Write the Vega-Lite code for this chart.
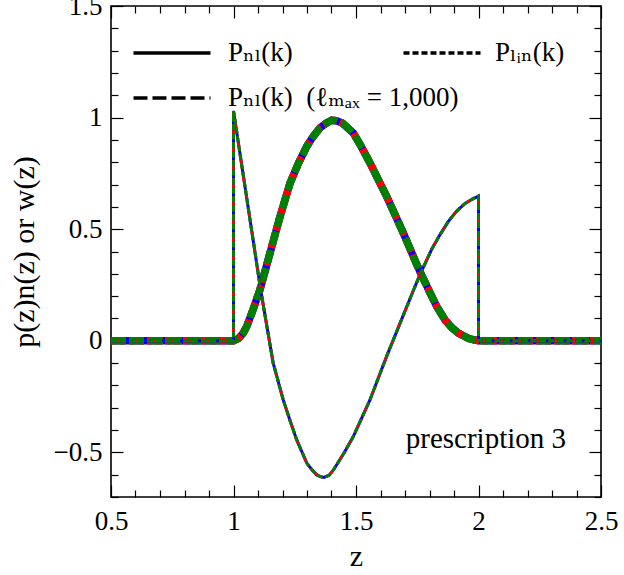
{
  "$schema": "https://vega.github.io/schema/vega-lite/v6.json",
  "width": 490,
  "height": 491,
  "autosize": {"type": "none"},
  "padding": {"left": 111, "top": 6, "right": 23, "bottom": 78},
  "background": "white",
  "config": {
    "view": {"stroke": "black", "strokeWidth": 1.6},
    "font": "Liberation Serif",
    "axis": {"domain": false, "grid": false, "tickColor": "black", "tickWidth": 1.2, "labelOverlap": false, "labelFlush": false, "labelFont": "Liberation Serif", "labelFontSize": 27, "labelColor": "black", "titleFont": "Liberation Serif", "titleFontSize": 30, "titleFontWeight": "normal", "titleColor": "black"}
  },
  "datasets": {
    "curves": [
      {"z": 0.5, "v": 0, "c": "n"}, {"z": 1.0, "v": 0, "c": "n"}, {"z": 1.02, "v": 0.01, "c": "n"}, {"z": 1.04, "v": 0.035, "c": "n"},
      {"z": 1.054, "v": 0.064, "c": "n"}, {"z": 1.08, "v": 0.14, "c": "n"}, {"z": 1.108, "v": 0.229, "c": "n"}, {"z": 1.149, "v": 0.393, "c": "n"},
      {"z": 1.19, "v": 0.557, "c": "n"}, {"z": 1.231, "v": 0.707, "c": "n"}, {"z": 1.265, "v": 0.795, "c": "n"}, {"z": 1.299, "v": 0.871, "c": "n"},
      {"z": 1.325, "v": 0.915, "c": "n"}, {"z": 1.353, "v": 0.954, "c": "n"}, {"z": 1.38, "v": 0.976, "c": "n"}, {"z": 1.4, "v": 0.988, "c": "n"},
      {"z": 1.42, "v": 0.986, "c": "n"}, {"z": 1.445, "v": 0.975, "c": "n"}, {"z": 1.489, "v": 0.931, "c": "n"}, {"z": 1.52, "v": 0.873, "c": "n"},
      {"z": 1.557, "v": 0.797, "c": "n"}, {"z": 1.59, "v": 0.724, "c": "n"}, {"z": 1.625, "v": 0.647, "c": "n"}, {"z": 1.66, "v": 0.563, "c": "n"},
      {"z": 1.693, "v": 0.483, "c": "n"}, {"z": 1.72, "v": 0.414, "c": "n"}, {"z": 1.741, "v": 0.36, "c": "n"}, {"z": 1.761, "v": 0.31, "c": "n"},
      {"z": 1.8, "v": 0.22, "c": "n"}, {"z": 1.83, "v": 0.153, "c": "n"}, {"z": 1.863, "v": 0.094, "c": "n"}, {"z": 1.89, "v": 0.06, "c": "n"},
      {"z": 1.918, "v": 0.034, "c": "n"}, {"z": 1.96, "v": 0.01, "c": "n"}, {"z": 2.0, "v": 0, "c": "n"}, {"z": 2.5, "v": 0, "c": "n"},
      {"z": 0.5, "v": 0, "c": "w"}, {"z": 1.0, "v": 0, "c": "w"}, {"z": 1.0, "v": 1.03, "c": "w"}, {"z": 1.054, "v": 0.64, "c": "w"},
      {"z": 1.112, "v": 0.221, "c": "w"}, {"z": 1.162, "v": -0.1, "c": "w"}, {"z": 1.203, "v": -0.265, "c": "w"}, {"z": 1.23, "v": -0.355, "c": "w"},
      {"z": 1.258, "v": -0.444, "c": "w"}, {"z": 1.299, "v": -0.548, "c": "w"}, {"z": 1.32, "v": -0.578, "c": "w"}, {"z": 1.34, "v": -0.601, "c": "w"},
      {"z": 1.355, "v": -0.609, "c": "w"}, {"z": 1.369, "v": -0.612, "c": "w"}, {"z": 1.39, "v": -0.603, "c": "w"}, {"z": 1.407, "v": -0.58, "c": "w"},
      {"z": 1.45, "v": -0.505, "c": "w"}, {"z": 1.489, "v": -0.429, "c": "w"}, {"z": 1.557, "v": -0.265, "c": "w"}, {"z": 1.59, "v": -0.17, "c": "w"},
      {"z": 1.625, "v": -0.07, "c": "w"}, {"z": 1.68, "v": 0.079, "c": "w"}, {"z": 1.734, "v": 0.225, "c": "w"}, {"z": 1.761, "v": 0.296, "c": "w"},
      {"z": 1.809, "v": 0.41, "c": "w"}, {"z": 1.84, "v": 0.47, "c": "w"}, {"z": 1.877, "v": 0.535, "c": "w"}, {"z": 1.91, "v": 0.58, "c": "w"},
      {"z": 1.945, "v": 0.615, "c": "w"}, {"z": 1.975, "v": 0.635, "c": "w"}, {"z": 2.0, "v": 0.648, "c": "w"}, {"z": 2.0, "v": 0, "c": "w"},
      {"z": 2.5, "v": 0, "c": "w"}
    ]
  },
  "data": {"name": "curves"},
  "resolve": {"axis": {"x": "independent", "y": "independent"}},
  "layer": [
    {
      "transform": [{"filter": "datum.c === 'n'"}],
      "mark": {"type": "line", "color": "#0000ff", "strokeWidth": 7.5},
      "encoding": {
        "x": {"field": "z", "type": "quantitative", "scale": {"domain": [0.5, 2.5], "nice": false, "zero": false},
          "axis": {"orient": "bottom", "title": "z", "titlePadding": 2,
            "values": [0.5,0.6,0.7,0.8,0.9,1,1.1,1.2,1.3,1.4,1.5,1.6,1.7,1.8,1.9,2,2.1,2.2,2.3,2.4,2.5],
            "tickSize": {"condition": {"test": "abs(datum.value*2-round(datum.value*2))<1e-6", "value": -12}, "value": -7},
            "labelPadding": 23,
            "labelExpr": "abs(datum.value*2-round(datum.value*2))<1e-6 ? replace(''+datum.value,'-','\u2212') : ''"}},
        "y": {"field": "v", "type": "quantitative", "scale": {"domain": [-0.7, 1.5], "nice": false, "zero": false},
          "axis": {"orient": "left", "title": "p(z)n(z) or w(z)", "titlePadding": 14,
            "values": [-0.7,-0.6,-0.5,-0.4,-0.3,-0.2,-0.1,0,0.1,0.2,0.3,0.4,0.5,0.6,0.7,0.8,0.9,1,1.1,1.2,1.3,1.4,1.5],
            "tickSize": {"condition": {"test": "abs(datum.value*2-round(datum.value*2))<1e-6", "value": -12}, "value": -7},
            "labelPadding": 21,
            "labelExpr": "abs(datum.value*2-round(datum.value*2))<1e-6 ? replace(''+datum.value,'-','\u2212') : ''"}},
        "strokeDash": {"datum": "P\u2099\u2097(k)", "type": "nominal",
          "scale": {"domain": ["P\u2099\u2097(k)", "P\u2099\u2097(k)\u2002(\u2113\u2098\u2090\u2093 = 1,000)"], "range": [[1, 0], [14, 5]]},
          "legend": {"orient": "none", "legendX": 46, "legendY": 32, "direction": "vertical", "rowPadding": 17,
            "symbolType": "M-3,0H3", "symbolSize": 659, "symbolStrokeWidth": 3.5, "symbolStrokeColor": "black", "symbolFillColor": "transparent",
            "labelFont": "Liberation Serif, DejaVu Serif", "labelFontSize": 27, "labelColor": "black", "labelOffset": 41, "labelLimit": 0,
            "title": null, "padding": 0,
            "encode": {"symbols": {"update": {"stroke": {"value": "black"}, "strokeWidth": {"value": 3.5}, "fill": {"value": "transparent"}, "opacity": {"value": 1}}}}}}
      }
    },
    {
      "transform": [{"filter": "datum.c === 'n'"}],
      "mark": {"type": "line", "color": "#ff0000", "strokeWidth": 7.5, "strokeDash": [6, 3]},
      "encoding": {
        "x": {"field": "z", "type": "quantitative",
          "axis": {"orient": "top", "title": null, "labels": false,
            "values": [0.5,0.6,0.7,0.8,0.9,1,1.1,1.2,1.3,1.4,1.5,1.6,1.7,1.8,1.9,2,2.1,2.2,2.3,2.4,2.5],
            "tickSize": {"condition": {"test": "abs(datum.value*2-round(datum.value*2))<1e-6", "value": -12}, "value": -7}}},
        "y": {"field": "v", "type": "quantitative",
          "axis": {"orient": "right", "title": null, "labels": false,
            "values": [-0.7,-0.6,-0.5,-0.4,-0.3,-0.2,-0.1,0,0.1,0.2,0.3,0.4,0.5,0.6,0.7,0.8,0.9,1,1.1,1.2,1.3,1.4,1.5],
            "tickSize": {"condition": {"test": "abs(datum.value*2-round(datum.value*2))<1e-6", "value": -12}, "value": -7}}},
        "opacity": {"datum": "P\u2097\u1d62\u2099(k)", "type": "nominal", "scale": {"type": "ordinal", "domain": ["P\u2097\u1d62\u2099(k)"], "range": [1]},
          "legend": {"orient": "none", "legendX": 316, "legendY": 32, "direction": "vertical",
            "symbolType": "M-3,0H3", "symbolSize": 659, "symbolStrokeWidth": 3.5, "symbolDash": [6, 3], "symbolStrokeColor": "black", "symbolFillColor": "transparent",
            "labelFont": "Liberation Serif, DejaVu Serif", "labelFontSize": 27, "labelColor": "black", "labelOffset": 38, "labelLimit": 0,
            "title": null, "padding": 0,
            "encode": {"symbols": {"update": {"stroke": {"value": "black"}, "strokeWidth": {"value": 3.5}, "strokeDash": {"value": [6, 3]}, "fill": {"value": "transparent"}, "opacity": {"value": 1}}}}}}
      }
    },
    {
      "transform": [{"filter": "datum.c === 'n'"}],
      "mark": {"type": "line", "color": "#008000", "strokeWidth": 7.5},
      "encoding": {
        "x": {"field": "z", "type": "quantitative", "axis": null},
        "y": {"field": "v", "type": "quantitative", "axis": null},
        "strokeDash": {"datum": "P\u2099\u2097(k)\u2002(\u2113\u2098\u2090\u2093 = 1,000)", "type": "nominal"}
      }
    },
    {
      "transform": [{"filter": "datum.c === 'w'"}],
      "mark": {"type": "line", "color": "#0000ff", "strokeWidth": 3},
      "encoding": {
        "x": {"field": "z", "type": "quantitative", "axis": null},
        "y": {"field": "v", "type": "quantitative", "axis": null}
      }
    },
    {
      "transform": [{"filter": "datum.c === 'w'"}],
      "mark": {"type": "line", "color": "#ff0000", "strokeWidth": 3, "strokeDash": [3, 3]},
      "encoding": {
        "x": {"field": "z", "type": "quantitative", "axis": null},
        "y": {"field": "v", "type": "quantitative", "axis": null}
      }
    },
    {
      "transform": [{"filter": "datum.c === 'w'"}],
      "mark": {"type": "line", "color": "#008000", "strokeWidth": 3, "strokeDash": [6, 3]},
      "encoding": {
        "x": {"field": "z", "type": "quantitative", "axis": null},
        "y": {"field": "v", "type": "quantitative", "axis": null}
      }
    },
    {
      "data": {"values": [{"label": "prescription 3"}]},
      "mark": {"type": "text", "font": "Liberation Serif", "fontSize": 29, "color": "black", "align": "center", "baseline": "alphabetic"},
      "encoding": {
        "x": {"datum": 2.03, "type": "quantitative", "axis": null},
        "y": {"datum": -0.48, "type": "quantitative", "axis": null},
        "text": {"field": "label"}
      }
    }
  ]
}
